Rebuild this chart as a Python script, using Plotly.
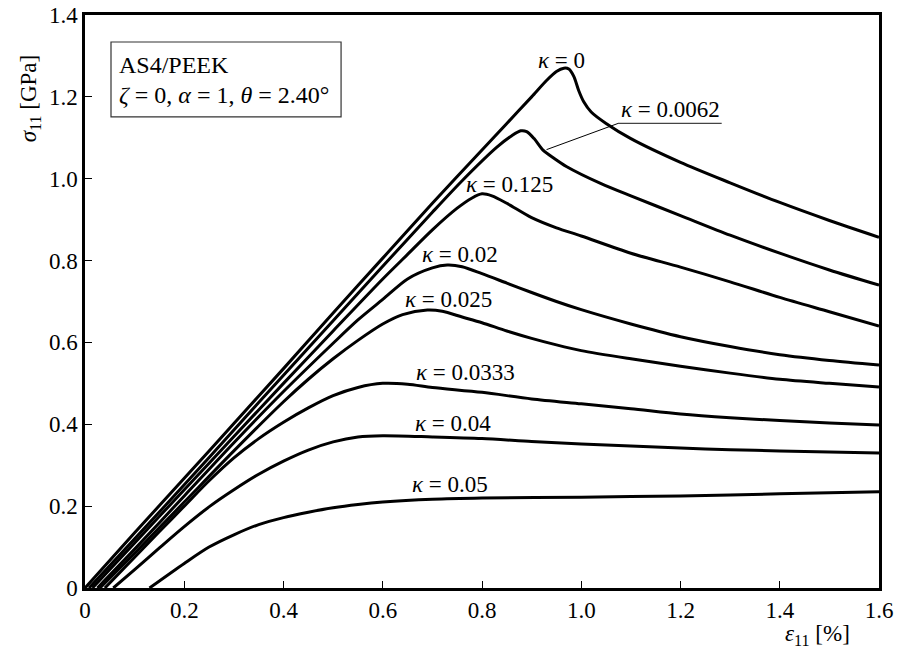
import plotly.graph_objects as go

# ---- data (strain %, stress GPa) ----
k0_x = [0, 0.1, 0.2, 0.3, 0.4, 0.5, 0.6, 0.7, 0.8, 0.85, 0.9, 0.93, 0.95, 0.965, 0.975, 0.985, 0.995, 1.005, 1.02, 1.05, 1.1, 1.2, 1.3, 1.4, 1.5, 1.6]
k0_y = [0, 0.135, 0.268, 0.402, 0.536, 0.672, 0.806, 0.94, 1.07, 1.135, 1.2, 1.24, 1.262, 1.27, 1.268, 1.25, 1.215, 1.188, 1.163, 1.135, 1.098, 1.04, 0.99, 0.942, 0.898, 0.857]

k1_x = [0.008, 0.1, 0.2, 0.3, 0.4, 0.5, 0.6, 0.7, 0.76, 0.83, 0.86, 0.878, 0.89, 0.905, 0.923, 0.945, 0.97, 1.04, 1.1, 1.2, 1.3, 1.4, 1.5, 1.6]
k1_y = [0, 0.12, 0.252, 0.386, 0.52, 0.653, 0.786, 0.918, 0.995, 1.077, 1.105, 1.117, 1.115, 1.098, 1.07, 1.05, 1.03, 0.988, 0.958, 0.91, 0.862, 0.818, 0.777, 0.74]

k2_x = [0.015, 0.1, 0.2, 0.3, 0.4, 0.5, 0.6, 0.65, 0.7, 0.75, 0.78, 0.8, 0.82, 0.85, 0.9, 0.95, 1.0, 1.1, 1.2, 1.3, 1.4, 1.5, 1.6]
k2_y = [0, 0.11, 0.24, 0.37, 0.5, 0.628, 0.755, 0.815, 0.875, 0.928, 0.953, 0.963, 0.958, 0.94, 0.905, 0.88, 0.86, 0.818, 0.784, 0.748, 0.71, 0.675, 0.64]

k3_x = [0.025, 0.1, 0.2, 0.3, 0.4, 0.5, 0.55, 0.6, 0.65, 0.7, 0.73, 0.76, 0.8, 0.85, 0.9, 0.95, 1.0, 1.1, 1.2, 1.3, 1.4, 1.5, 1.6]
k3_y = [0, 0.095, 0.225, 0.355, 0.48, 0.598, 0.655, 0.705, 0.755, 0.782, 0.789, 0.785, 0.768, 0.745, 0.722, 0.7, 0.68, 0.645, 0.614, 0.59, 0.57, 0.556, 0.545]

k4_x = [0.03, 0.1, 0.2, 0.3, 0.4, 0.45, 0.5, 0.55, 0.6, 0.64, 0.69, 0.72, 0.76, 0.8, 0.85, 0.9, 0.95, 1.0, 1.1, 1.2, 1.3, 1.4, 1.5, 1.6]
k4_y = [0, 0.085, 0.21, 0.335, 0.455, 0.51, 0.56, 0.605, 0.645, 0.668, 0.679, 0.676, 0.662, 0.648, 0.628, 0.61, 0.594, 0.58, 0.56, 0.542, 0.525, 0.51, 0.5, 0.491]

k5_x = [0.04, 0.1, 0.15, 0.2, 0.25, 0.3, 0.35, 0.4, 0.45, 0.5, 0.55, 0.6, 0.65, 0.7, 0.8, 0.9, 1.0, 1.1, 1.2, 1.3, 1.4, 1.5, 1.6]
k5_y = [0, 0.075, 0.138, 0.2, 0.262, 0.318, 0.365, 0.405, 0.44, 0.47, 0.49, 0.5, 0.498, 0.49, 0.478, 0.462, 0.45, 0.438, 0.425, 0.416, 0.409, 0.403, 0.398]

k6_x = [0.057, 0.1, 0.15, 0.2, 0.252, 0.3, 0.35, 0.4, 0.45, 0.5, 0.55, 0.6, 0.7, 0.8, 0.9, 1.0, 1.1, 1.2, 1.3, 1.4, 1.5, 1.6]
k6_y = [0, 0.045, 0.098, 0.15, 0.2, 0.24, 0.278, 0.31, 0.337, 0.357, 0.369, 0.372, 0.369, 0.365, 0.358, 0.352, 0.347, 0.342, 0.338, 0.335, 0.332, 0.33]

k7_x = [0.13, 0.2, 0.25, 0.3, 0.35, 0.4, 0.45, 0.5, 0.55, 0.6, 0.7, 0.8, 1.0, 1.2, 1.4, 1.6]
k7_y = [0, 0.06, 0.1, 0.13, 0.155, 0.172, 0.185, 0.196, 0.204, 0.21, 0.217, 0.22, 0.222, 0.225, 0.23, 0.235]

labels = ["0", "0.0062", "0.125", "0.02", "0.025", "0.0333", "0.04", "0.05"]
label_x = [0.961, 1.18, 0.856, 0.756, 0.733, 0.766, 0.742, 0.736]
label_y = [1.29, 1.168, 0.987, 0.814, 0.706, 0.527, 0.402, 0.254]

x_ticks = [0, 0.2, 0.4, 0.6, 0.8, 1.0, 1.2, 1.4, 1.6]
x_tick_text = ["0", "0.2", "0.4", "0.6", "0.8", "1.0", "1.2", "1.4", "1.6"]
y_ticks = [0, 0.2, 0.4, 0.6, 0.8, 1.0, 1.2, 1.4]
y_tick_text = ["0", "0.2", "0.4", "0.6", "0.8", "1.0", "1.2", "1.4"]

curves = [(k0_x, k0_y), (k1_x, k1_y), (k2_x, k2_y), (k3_x, k3_y),
          (k4_x, k4_y), (k5_x, k5_y), (k6_x, k6_y), (k7_x, k7_y)]

FONT = "Liberation Serif"

fig = go.Figure()
for (xs, ys), lab in zip(curves, labels):
    fig.add_trace(go.Scatter(x=xs, y=ys, mode="lines", name=lab,
                             line=dict(color="black", width=3, shape="spline", smoothing=0.8),
                             showlegend=False))

for lab, lx, ly in zip(labels, label_x, label_y):
    fig.add_annotation(x=lx, y=ly, xref="x", yref="y", text="<i>κ</i> = " + lab,
                       showarrow=False, font=dict(family=FONT, size=23, color="black"),
                       xanchor="center", yanchor="middle")

# leader line for kappa=0.0062
fig.add_shape(type="line", xref="x", yref="y", x0=0.930, y0=1.071, x1=1.074, y1=1.135,
              line=dict(color="black", width=1))
fig.add_shape(type="line", xref="x", yref="y", x0=1.074, y0=1.135, x1=1.283, y1=1.135,
              line=dict(color="#444", width=1.2))

# info box
fig.add_shape(type="rect", xref="x", yref="y", x0=0.0524, y0=1.151, x1=0.516, y1=1.334,
              line=dict(color="#333", width=1.2), fillcolor="white", layer="below")
fig.add_annotation(x=0.064, y=1.277, xref="x", yref="y", text="AS4/PEEK", showarrow=False,
                   font=dict(family=FONT, size=24, color="black"), xanchor="left", yanchor="middle")
fig.add_annotation(x=0.064, y=1.205, xref="x", yref="y",
                   text="<i>ζ</i> = 0, <i>α</i> = 1, <i>θ</i> = 2.40°", showarrow=False,
                   font=dict(family=FONT, size=24, color="black"), xanchor="left", yanchor="middle")

# axis titles
fig.add_annotation(x=-0.069, y=0.855, xref="paper", yref="paper",
                   text="<i>σ</i><sub>11</sub> [GPa]", textangle=-90, showarrow=False,
                   font=dict(family=FONT, size=23, color="black"), xanchor="center", yanchor="middle")
fig.add_annotation(x=0.922, y=-0.082, xref="paper", yref="paper",
                   text="<i>ε</i><sub>11</sub> [%]", showarrow=False,
                   font=dict(family=FONT, size=23, color="black"), xanchor="center", yanchor="middle")

fig.update_layout(
    width=897, height=653,
    margin=dict(l=85, r=18, t=15, b=65),
    paper_bgcolor="white", plot_bgcolor="white",
    font=dict(family=FONT, size=22, color="black"),
    xaxis=dict(range=[0, 1.6], tickvals=x_ticks, ticktext=x_tick_text, automargin=False,
               showgrid=False, zeroline=False, showline=True, mirror=True,
               linecolor="black", linewidth=2.5, ticks="inside", ticklen=7,
               tickwidth=1, tickcolor="black", tickfont=dict(family=FONT, size=23)),
    yaxis=dict(range=[0, 1.4], tickvals=y_ticks, ticktext=y_tick_text, automargin=False,
               showgrid=False, zeroline=False, showline=True, mirror=True,
               linecolor="black", linewidth=2.5, ticks="inside", ticklen=7,
               tickwidth=1, tickcolor="black", tickfont=dict(family=FONT, size=23)),
)

fig.write_html("out.html")
